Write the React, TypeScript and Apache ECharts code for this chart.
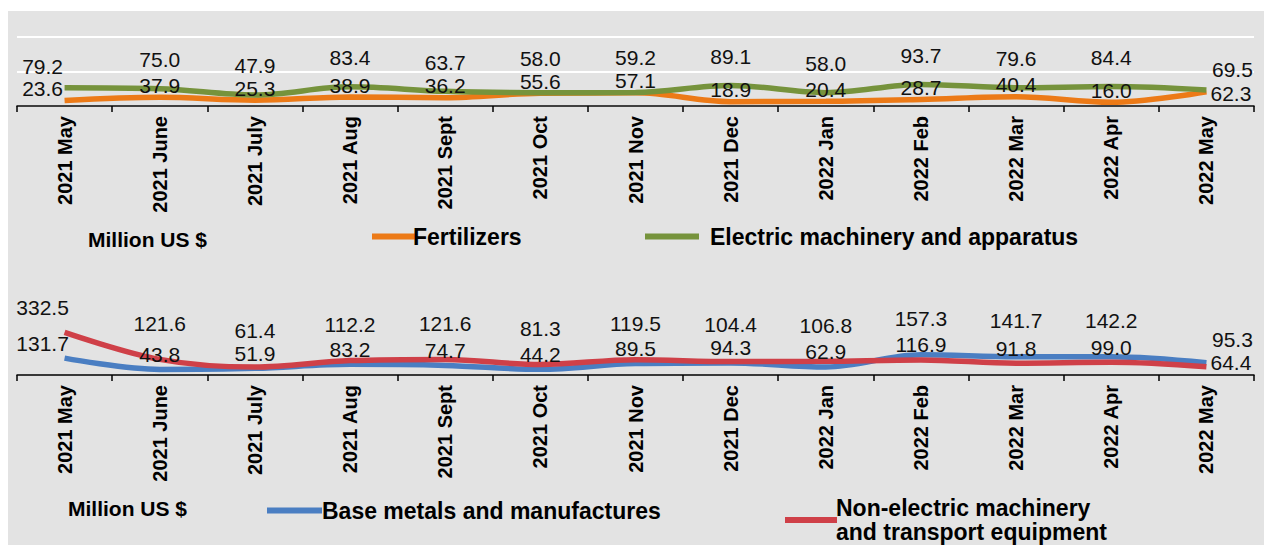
import React, { useEffect, useRef } from "react";
import * as echarts from "echarts";

const categories = [
  "2021 May", "2021 June", "2021 July", "2021 Aug", "2021 Sept", "2021 Oct", "2021 Nov",
  "2021 Dec", "2022 Jan", "2022 Feb", "2022 Mar", "2022 Apr", "2022 May",
];
const fertilizers = [23.6, 37.9, 25.3, 38.9, 36.2, 55.6, 57.1, 18.9, 20.4, 28.7, 40.4, 16.0, 62.3];
const electricMachinery = [79.2, 75.0, 47.9, 83.4, 63.7, 58.0, 59.2, 89.1, 58.0, 93.7, 79.6, 84.4, 69.5];
const baseMetals = [131.7, 43.8, 51.9, 83.2, 74.7, 44.2, 89.5, 94.3, 62.9, 157.3, 141.7, 142.2, 95.3];
const nonElectric = [332.5, 121.6, 61.4, 112.2, 121.6, 81.3, 119.5, 104.4, 106.8, 116.9, 91.8, 99.0, 64.4];

const unitLabel = "Million US $";
const NAME_FERT = "Fertilizers";
const NAME_ELEC = "Electric machinery and apparatus";
const NAME_BASE = "Base metals and manufactures";
const NAME_NONE = "Non-electric machinery and transport equipment";

const COLORS = {
  orange: "#EC7A17",
  green: "#76933C",
  blue: "#4A7EC2",
  red: "#CF4048",
};

const LABEL_FONT = "'Liberation Sans', Arial, sans-serif";
const TOP_GRID = { top: 37, height: 69, max: 300 };
const BOT_GRID = { top: 298, height: 77, max: 600 };
const LABEL_BOX = 23;

type Dist = {
  big: number; small: number; firstBig: number; firstSmall: number; lastBig: number;
  pxPerUnit: number;
};

function buildData(values: number[], other: number[], d: Dist) {
  const last = values.length - 1;
  return values.map((v, i) => {
    const larger = v >= other[i];
    const gapPx = Math.abs(v - other[i]) * d.pxPerUnit;
    const bigDist = Math.max(d.big, d.small + LABEL_BOX - gapPx);
    let label: any;
    if (i === 0) {
      label = { show: true, position: "top", distance: larger ? d.firstBig : d.firstSmall, offset: [-22, 0] };
    } else if (i === last) {
      label = larger
        ? { show: true, position: "top", distance: d.lastBig, offset: [26, 0] }
        : { show: true, position: "right", distance: 4, offset: [0, d.pxPerUnit < 0.2 ? -4 : 2] };
    } else {
      label = { show: true, position: "top", distance: larger ? bigDist : d.small };
    }
    return { value: v, label };
  });
}

function lineSeries(name: string, color: string, data: any[], idx: number) {
  return {
    name,
    type: "line",
    xAxisIndex: idx,
    yAxisIndex: idx,
    data,
    smooth: 0.35,
    symbol: "circle",
    symbolSize: 0.1,
    showSymbol: true,
    lineStyle: { color, width: 5.5 },
    itemStyle: { color },
    label: {
      show: true,
      color: "#111",
      fontSize: 21,
      lineHeight: 20,
      fontFamily: LABEL_FONT,
      formatter: (p: any) => Number(p.value).toFixed(1),
    },
    z: 3,
  };
}

function xAxisFor(idx: number) {
  return {
    type: "category",
    gridIndex: idx,
    data: categories,
    boundaryGap: true,
    axisLine: { show: true, lineStyle: { color: "#000", width: 1.5 } },
    axisTick: { show: true, length: 6, lineStyle: { color: "#000", width: 1.5 } },
    axisLabel: {
      rotate: 90,
      interval: 0,
      margin: 10,
      fontSize: 20,
      fontWeight: "bold",
      color: "#000",
      fontFamily: LABEL_FONT,
    },
    splitLine: { show: false },
  };
}

function legendFor(name: string, left: number, top: number, iconW: number, padLeft: number, extra: any = {}) {
  return {
    data: [name],
    left,
    top,
    icon: "rect",
    itemWidth: iconW,
    itemHeight: 6,
    selectedMode: false,
    textStyle: {
      fontFamily: LABEL_FONT,
      fontWeight: "bold",
      fontSize: 23,
      color: "#000",
      padding: [0, 0, 0, padLeft],
      ...(extra.textStyle || {}),
    },
    ...(extra.formatter ? { formatter: extra.formatter } : {}),
  };
}

export default function App() {
  const ref = useRef<HTMLDivElement>(null);

  useEffect(() => {
    if (!ref.current) return;
    const chart = echarts.init(ref.current, null, { renderer: "svg" });

    const topDist: Dist = {
      big: 19, small: 2, firstBig: 11, firstSmall: 2, lastBig: 10,
      pxPerUnit: TOP_GRID.height / TOP_GRID.max,
    };
    const botDist: Dist = {
      big: 26, small: 5, firstBig: 15, firstSmall: 5, lastBig: 13,
      pxPerUnit: BOT_GRID.height / BOT_GRID.max,
    };

    const unitStyle = {
      fontFamily: LABEL_FONT,
      fontWeight: "bold",
      fontSize: 21,
      fill: "#000",
    };

    const option: any = {
      animation: false,
      backgroundColor: "#ffffff",
      graphic: [
        {
          type: "rect",
          z: -100,
          silent: true,
          shape: { x: 8, y: 11, width: 1256, height: 540 },
          style: { fill: "#E3E3E3" },
        },
        { type: "text", left: 88, top: 229, style: { text: unitLabel, ...unitStyle } },
        { type: "text", left: 68, top: 498, style: { text: unitLabel, ...unitStyle } },
      ],
      legend: [
        legendFor(NAME_FERT, 367, 220, 45, -9),
        legendFor(NAME_ELEC, 640, 220, 54, 6),
        legendFor(NAME_BASE, 262, 494, 55, -5),
        legendFor(NAME_NONE, 780, 479, 52, -6, {
          formatter: () => "Non-electric machinery\nand transport equipment",
          textStyle: { lineHeight: 24, padding: [24, 0, 0, -6] },
        }),
      ],
      grid: [
        { left: 17, right: 14, top: TOP_GRID.top, height: TOP_GRID.height },
        { left: 17, right: 14, top: BOT_GRID.top, height: BOT_GRID.height },
      ],
      xAxis: [xAxisFor(0), xAxisFor(1)],
      yAxis: [
        {
          type: "value",
          gridIndex: 0,
          min: 0,
          max: TOP_GRID.max,
          interval: 150,
          axisLabel: { show: false },
          axisLine: { show: false },
          axisTick: { show: false },
          splitLine: { show: true, lineStyle: { color: "#ffffff", width: 2 } },
        },
        {
          type: "value",
          gridIndex: 1,
          min: 0,
          max: BOT_GRID.max,
          interval: 150,
          axisLabel: { show: false },
          axisLine: { show: false },
          axisTick: { show: false },
          splitLine: { show: false },
        },
      ],
      series: [
        lineSeries(NAME_FERT, COLORS.orange, buildData(fertilizers, electricMachinery, topDist), 0),
        lineSeries(NAME_ELEC, COLORS.green, buildData(electricMachinery, fertilizers, topDist), 0),
        lineSeries(NAME_BASE, COLORS.blue, buildData(baseMetals, nonElectric, botDist), 1),
        lineSeries(NAME_NONE, COLORS.red, buildData(nonElectric, baseMetals, botDist), 1),
      ],
    };

    chart.setOption(option);
    return () => chart.dispose();
  }, []);

  return (
    <div
      ref={ref}
      style={{ position: "fixed", left: 0, top: 0, width: 1268, height: 545 }}
    />
  );
}
